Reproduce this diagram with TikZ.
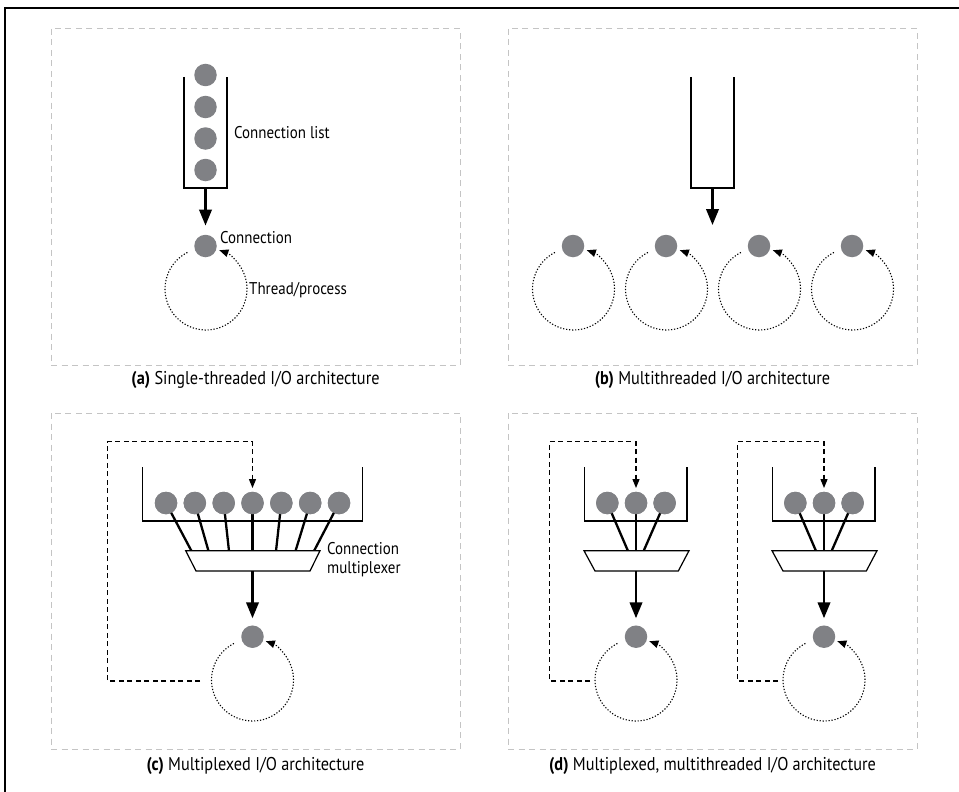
\documentclass[tikz,border=0pt]{standalone}
\usepackage{fontspec}
\setmainfont{PT Sans}[FakeStretch=0.88]
\usetikzlibrary{arrows.meta}
\definecolor{ballgray}{RGB}{128,129,133}
\definecolor{panelgray}{RGB}{196,196,196}
\begin{document}
\begin{tikzpicture}[x=1pt,y=-1pt,
 panel/.style={draw=panelgray, line width=1pt, dash pattern=on 6pt off 4.5pt},
 ball/.style={circle, fill=ballgray, minimum size=22.5pt, inner sep=0pt},
 tube/.style={line width=1.2pt},
 flow/.style={line width=2.4pt, -{Triangle[length=16pt,width=12.5pt]}},
 loopline/.style={line width=1.1pt, dash pattern=on 1.2pt off 1.8pt, -{Triangle[length=9pt,width=7.5pt]}},
 feedback/.style={line width=1.2pt, dash pattern=on 5pt off 3.5pt, -{Triangle[length=9pt,width=7pt]}},
 spoke/.style={line width=2.3pt},
 mux/.style={line width=1.2pt, fill=white},
 lbl/.style={font=\fontsize{17}{19}\selectfont, inner sep=0pt},
 captxt/.style={font=\fontsize{18.5}{20}\selectfont, inner sep=0pt}]
\useasboundingbox[fill=white] (0,0) rectangle (959,792);
% outer frame (top and left edges)
\draw[line width=1.3pt] (5,792) -- (5,8) -- (959,8);
% panels
\draw[panel] (51,29) rectangle (460,365);
\draw[panel] (508,29) rectangle (917,365);
\draw[panel] (51,413) rectangle (460,749);
\draw[panel] (508,413) rectangle (917,749);
% captions
\node[captxt] (capa) at (255.5,380) {\textbf{(a)} Single-threaded I/O architecture};
\node[captxt] (capb) at (712.5,380) {\textbf{(b)} Multithreaded I/O architecture};
\node[captxt] (capc) at (255.5,766) {\textbf{(c)} Multiplexed I/O architecture};
\node[captxt] (capd) at (712.5,766) {\textbf{(d)} Multiplexed, multithreaded I/O architecture};

% ---------- (a) ----------
\draw[tube] (184,77) -- (184,188) -- (227,188) -- (227,77);
\foreach \i/\yy in {1/75,2/107,3/138.5,4/170}
  \node[ball] (a\i) at (205.5,\yy) {};
\coordinate (atube) at (205.5,188);
\node[ball] (aconn) at (205.5,246) {};
\draw[flow] (atube) -- ([yshift=9pt]aconn.north);
\coordinate (aloop) at (206,289);
\draw[loopline] ([shift={(243:41)}]aloop) arc[start angle=243,end angle=-71,radius=41];
\node[lbl,anchor=west] (alist) at (234,133) {Connection list};
\node[lbl,anchor=west] (aconnlbl) at (220,238) {Connection};
\node[lbl,anchor=west] (athread) at (249,290) {Thread/process};

% ---------- (b) ----------
\draw[tube] (691,77) -- (691,188) -- (734,188) -- (734,77);
\coordinate (btube) at (712.5,188);
\coordinate (btip) at (712.5,225);
\draw[flow] (btube) -- (btip);
\foreach \i/\cx in {1/573,2/666,3/759,4/852}{
  \node[ball] (b\i) at (\cx,246) {};
  \draw[loopline] ([shift={(243:41)}]\cx+0.5,289) arc[start angle=243,end angle=-71,radius=41];
}

% ---------- (c) ----------
\draw[tube] (142.7,467) -- (142.7,521) -- (362.7,521) -- (362.7,467);
\foreach \i/\dx/\ex in {1/-86.5/-61,2/-57.7/-44,3/-28.8/-23.5,4/0/0,5/28.8/23.5,6/57.7/43,7/86.5/61.5}{
  \coordinate (cs\i) at (252.5+\ex,551);
  \node[ball] (c\i) at (252.5+\dx,503) {};
  \draw[spoke] (c\i.center) -- (cs\i);
  \node[ball] at (c\i) {};
}
\draw[mux] (185.7,550.7) -- (320,550.7) -- (310,571) -- (196,571) -- cycle;
\coordinate (cmux) at (252.5,571);
\node[ball] (cconn) at (252.5,636.7) {};
\draw[flow] (cmux) -- ([yshift=7pt]cconn.north);
\coordinate (cloop) at (252.5,680);
\draw[loopline] ([shift={(243:41)}]cloop) arc[start angle=243,end angle=-71,radius=41];
\coordinate (cfb) at (200,681);
\draw[feedback] (cfb) -- (107.3,681) -- (107.3,441.7) -- (252.5,441.7) -- ([yshift=3.5pt]c4.north);
\node[lbl,anchor=west,align=left] (cmuxlbl) at (327,560) {Connection\\multiplexer};

% ---------- (d) ----------
\foreach \u/\cx in {1/636,2/824}{
  \draw[tube] (\cx-51.7,467) -- (\cx-51.7,521) -- (\cx+51,521) -- (\cx+51,467);
  \foreach \i/\dx/\ex in {1/-28.7/-8,2/0/0,3/28.6/7.6}{
    \coordinate (ds\u\i) at (\cx+\ex,551);
    \node[ball] (d\u\i) at (\cx+\dx,503) {};
    \draw[spoke] (d\u\i.center) -- (ds\u\i);
    \node[ball] at (d\u\i) {};
  }
  \draw[mux] (\cx-52,550.7) -- (\cx+53,550.7) -- (\cx+42.3,571) -- (\cx-41,571) -- cycle;
  \coordinate (dmux\u) at (\cx,571);
  \node[ball] (dconn\u) at (\cx,636.7) {};
  \draw[flow] (dmux\u) -- ([yshift=7pt]dconn\u.north);
  \coordinate (dloop\u) at (\cx,680);
  \draw[loopline] ([shift={(243:41)}]dloop\u) arc[start angle=243,end angle=-71,radius=41];
  \coordinate (dfb\u) at (\cx-46,681);
  \draw[feedback] (dfb\u) -- (\cx-86.7,681) -- (\cx-86.7,441.7) -- (\cx,441.7) -- ([yshift=3.5pt]d\u2.north);
}
\end{tikzpicture}
\end{document}
